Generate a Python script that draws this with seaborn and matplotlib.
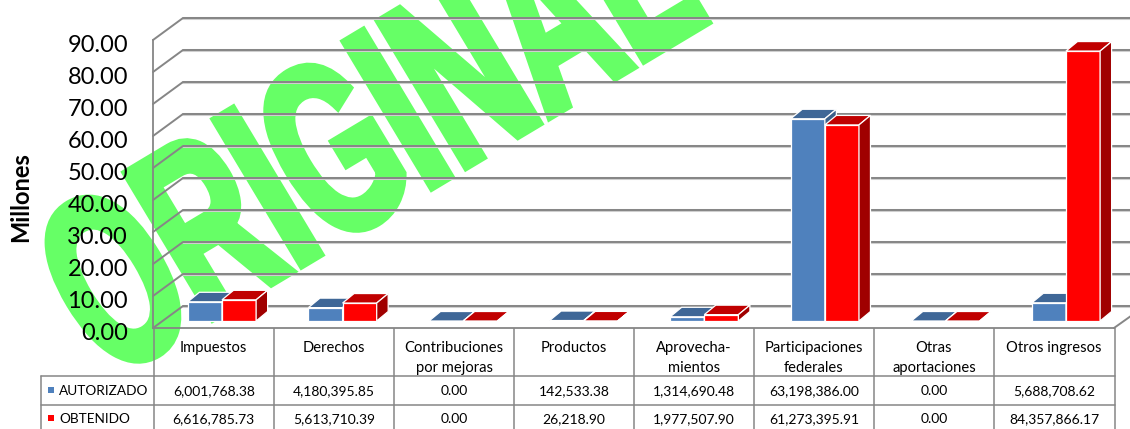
import matplotlib
matplotlib.use('Agg')
import matplotlib.pyplot as plt
import pandas as pd
import seaborn as sns
from matplotlib.patches import Polygon, Rectangle
from matplotlib.patheffects import AbstractPathEffect
from matplotlib.ticker import FormatStrFormatter
from matplotlib.transforms import Affine2D, ScaledTranslation

categories = ['Impuestos', 'Derechos', 'Contribuciones\npor mejoras', 'Productos',
              'Aprovecha-\nmientos', 'Participaciones\nfederales', 'Otras\naportaciones',
              'Otros ingresos']
autorizado = [6001768.38, 4180395.85, 0.00, 142533.38, 1314690.48, 63198386.00, 0.00, 5688708.62]
obtenido = [6616785.73, 5613710.39, 0.00, 26218.90, 1977507.90, 61273395.91, 0.00, 84357866.17]
y_ticks = [0, 10, 20, 30, 40, 50, 60, 70, 80, 90]
series_names = ['AUTORIZADO', 'OBTENIDO']

W, H = 1130, 429
GRID = '#868686'
GREEN = '#66FF66'
FRONT = {'AUTORIZADO': '#4F81BD', 'OBTENIDO': '#FF0000'}
TOP = {'AUTORIZADO': '#3F6797', 'OBTENIDO': '#C00000'}
SIDE = {'AUTORIZADO': '#3A5F8B', 'OBTENIDO': '#A00000'}


class Skew(AbstractPathEffect):
    # stretches the text like the word art watermark
    def __init__(self, origin, a, b, c, d, stroke):
        super().__init__()
        self.origin = origin
        self.skew = Affine2D.from_values(a, b, c, d, 0, 0)
        self.stroke = stroke

    def draw_path(self, renderer, gc, tpath, affine, rgbFace=None):
        x0, y0 = self.origin
        moved = affine + Affine2D().translate(-x0, -y0) + self.skew + Affine2D().translate(x0, y0)
        gc0 = renderer.new_gc()
        gc0.copy_properties(gc)
        gc0.set_linewidth(self.stroke)
        gc0.set_foreground(GREEN)
        gc0.set_joinstyle('miter')
        renderer.draw_path(gc0, tpath, moved, rgbFace)
        gc0.restore()


sns.set_theme(style='white')
plt.rcParams['font.family'] = ['Lato', 'DejaVu Sans']

fig = plt.figure(figsize=(W / 100, H / 100), dpi=100, facecolor='white')

# pixel sheet: watermark and data table
sheet = fig.add_axes([0, 0, 1, 1], zorder=0)
sheet.set_xlim(0, W)
sheet.set_ylim(H, 0)
sheet.axis('off')

wm_x, wm_y = 109, 380.4
sheet.text(wm_x, wm_y, 'ORIGINAL', fontsize=106.6, family='Liberation Sans', weight='bold',
           color=GREEN, ha='left', va='baseline', zorder=0,
           path_effects=[Skew((wm_x, H - wm_y), 0.97 * 127 / 148, 0.97 * 76 / 148,
                              -126.5 / 148, 210.8 / 148, 6)])

col_x = [154, 273.5, 394, 514, 634, 754, 874, 994, 1114.5]
for x in col_x:
    sheet.plot([x, x], [328, H], color=GRID, lw=1.1, zorder=2, solid_capstyle='butt')
sheet.plot([41, 41], [376, H], color=GRID, lw=1.1, zorder=2)
sheet.plot([41, 1114.5], [376, 376], color=GRID, lw=1.1, zorder=2)
sheet.plot([41, 1114.5], [405, 405], color=GRID, lw=1.1, zorder=2)

for i, name in enumerate(categories):
    cx = (col_x[i] + col_x[i + 1]) / 2
    for j, part in enumerate(name.split('\n')):
        sheet.text(cx, 352 + j * 20, part, ha='center', va='baseline', fontsize=10.6, color='black', zorder=3)
    sheet.text(cx, 395, f'{autorizado[i]:,.2f}', ha='center', va='baseline', fontsize=10, color='black', zorder=3)
    sheet.text(cx, 423, f'{obtenido[i]:,.2f}', ha='center', va='baseline', fontsize=10, color='black', zorder=3)

for name, y in zip(series_names, [390, 418]):
    sheet.add_patch(Rectangle((48, y - 3), 6, 6, color=FRONT[name], lw=0, zorder=3))
    sheet.text(59, y + 5, name, ha='left', va='baseline', fontsize=9.8, color='black', zorder=3)

# walls of the 3d box with the value axis
wall = fig.add_axes([153 / W, (H - 328) / H, 961 / W, 288 / H], zorder=1)
wall.patch.set_alpha(0)
wall.set_xlim(153, 1114)
wall.set_ylim(0, 90)
wall.set_xticks([])
wall.set_yticks(y_ticks)
wall.yaxis.set_major_formatter(FormatStrFormatter('%.2f'))
wall.tick_params(axis='y', length=0, pad=18, labelsize=17, labelcolor='black')
for label in wall.get_yticklabels():
    label.set_transform(label.get_transform() + ScaledTranslation(0, -2.5 / 72, fig.dpi_scale_trans))
wall.set_ylabel('Millones', fontsize=17, weight='bold', color='black')
wall.yaxis.set_label_coords((32 - 153) / 961, (328 - 197) / 288)
sns.despine(ax=wall, left=False, right=True, top=True, bottom=False)
wall.spines['left'].set_color(GRID)
wall.spines['left'].set_linewidth(1.3)
wall.spines['bottom'].set_color(GRID)
wall.spines['bottom'].set_linewidth(1.3)

back_dy = 22 / 3.2
for v in y_ticks:
    # light halo under the grey line, as in the office chart
    wall.plot([183, 1145], [v + back_dy, v + back_dy], color='#CFCFCF', lw=2.2, clip_on=False)
    wall.plot([153, 183, 1145], [v, v + back_dy, v + back_dy], color=GRID, lw=1.4,
              clip_on=False, solid_joinstyle='miter')
wall.plot([1114, 1145], [0, back_dy], color=GRID, lw=1.4, clip_on=False)

# bars
df = pd.DataFrame({
    'categoria': categories * 2,
    'serie': [series_names[0]] * 8 + [series_names[1]] * 8,
    'millones': [v / 1e6 for v in autorizado + obtenido],
})
ax = fig.add_axes([0, 0, 1, 1], zorder=2)
sns.barplot(data=df, x='categoria', y='millones', hue='serie', hue_order=series_names,
            palette=FRONT, width=0.566, gap=0, saturation=1, edgecolor='white', linewidth=0.9,
            legend=False, ax=ax)
ax.set_xlim(-222 / 120.57, (W - 222) / 120.57)
ax.set_ylim((321 - H) / 3.2, 321 / 3.2)
ax.axis('off')
ax.patch.set_alpha(0)

depth_x = 11.5 / 120.57
depth_y = 9.5 / 3.2
for k, (name, container) in enumerate(zip(series_names, ax.containers)):
    for bar in container:
        x0, x1 = bar.get_x(), bar.get_x() + bar.get_width()
        h = bar.get_height()
        bar.set_zorder(3 + k)
        ax.add_patch(Polygon([(x0, h), (x1, h), (x1 + depth_x, h + depth_y), (x0 + depth_x, h + depth_y)],
                             facecolor=TOP[name], edgecolor='white', lw=0.9, zorder=3 + k))
        ax.add_patch(Polygon([(x1, 0), (x1 + depth_x, depth_y), (x1 + depth_x, h + depth_y), (x1, h)],
                             facecolor=SIDE[name], edgecolor='white', lw=0.9, zorder=3 + k))

fig.savefig('out.png', dpi=100)
